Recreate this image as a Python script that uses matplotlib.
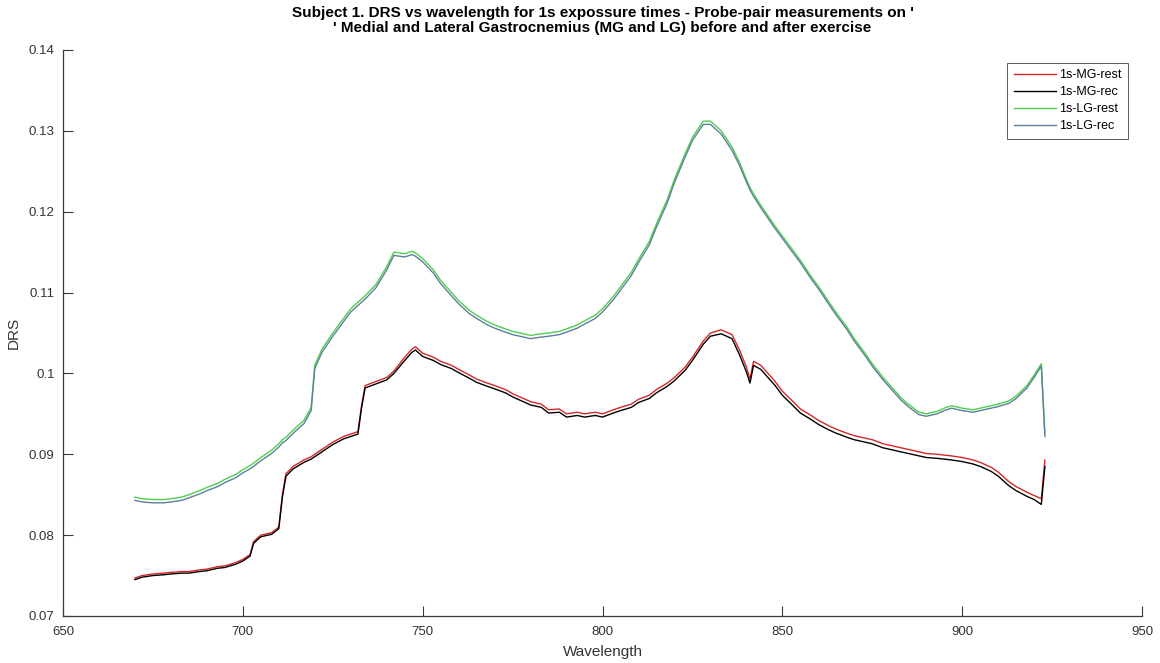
"""Subject 1 DRS spectra, probe-pair measurements on MG and LG before/after exercise."""
import matplotlib
matplotlib.use("Agg")
import matplotlib.pyplot as plt

plt.rcParams["font.family"] = ["Liberation Sans", "DejaVu Sans"]

wl = [670, 672, 675, 678, 680, 683, 685, 688, 690, 693, 695, 698, 700, 702, 703,
      705, 708, 710, 711, 712, 714, 717, 719, 720, 722, 725, 728, 730, 732, 733,
      734, 737, 740, 742, 745, 747, 748, 750, 753, 755, 758, 760, 763, 765, 768,
      770, 773, 775, 778, 780, 783, 785, 788, 790, 793, 795, 798, 800, 803, 805,
      808, 810, 813, 815, 818, 820, 823, 825, 828, 830, 833, 836, 838, 840, 841,
      842, 844, 846, 848, 850, 853, 855, 858, 860, 863, 865, 868, 870, 873, 875,
      878, 880, 883, 885, 888, 890, 893, 895, 897, 900, 903, 905, 908, 910, 913,
      915, 918, 920, 922, 923]

lg_rest = [0.0847, 0.0845, 0.0844, 0.0844, 0.0845, 0.0847, 0.0850, 0.0855, 0.0859, 0.0864, 0.0869, 0.0875, 0.0881, 0.0886, 0.0889,
           0.0896, 0.0905, 0.0913, 0.0918, 0.0921, 0.0930, 0.0942, 0.0958, 0.1010, 0.1030, 0.1050, 0.1068, 0.1080, 0.1088, 0.1092,
           0.1096, 0.1110, 0.1132, 0.1150, 0.1148, 0.1151, 0.1149, 0.1142, 0.1128, 0.1115, 0.1100, 0.1090, 0.1078, 0.1072, 0.1064,
           0.1060, 0.1055, 0.1052, 0.1049, 0.1047, 0.1049, 0.1050, 0.1052, 0.1055, 0.1060, 0.1065, 0.1072, 0.1080, 0.1095, 0.1107,
           0.1125, 0.1141, 0.1163, 0.1185, 0.1215, 0.1240, 0.1272, 0.1292, 0.1312, 0.1312, 0.1300, 0.1280, 0.1262, 0.1240, 0.1230,
           0.1222, 0.1208, 0.1195, 0.1182, 0.1170, 0.1152, 0.1140, 0.1120, 0.1108, 0.1088, 0.1075, 0.1057, 0.1043, 0.1025, 0.1012,
           0.0995, 0.0985, 0.0970, 0.0962, 0.0952, 0.0950, 0.0953, 0.0957, 0.0960, 0.0957, 0.0955, 0.0957, 0.0960, 0.0962, 0.0966,
           0.0972, 0.0985, 0.0998, 0.1012, 0.0925]

lg_rec = [0.0843, 0.0841, 0.0840, 0.0840, 0.0841, 0.0843, 0.0846, 0.0851, 0.0855, 0.0860, 0.0865, 0.0871, 0.0877, 0.0882, 0.0885,
          0.0892, 0.0901, 0.0909, 0.0914, 0.0917, 0.0926, 0.0938, 0.0954, 0.1006, 0.1026, 0.1046, 0.1064, 0.1076, 0.1084, 0.1088,
          0.1092, 0.1106, 0.1128, 0.1146, 0.1144, 0.1147, 0.1145, 0.1138, 0.1124, 0.1111, 0.1096, 0.1086, 0.1074, 0.1068, 0.1060,
          0.1056, 0.1051, 0.1048, 0.1045, 0.1043, 0.1045, 0.1046, 0.1048, 0.1051, 0.1056, 0.1061, 0.1068, 0.1076, 0.1091, 0.1103,
          0.1121, 0.1137, 0.1159, 0.1181, 0.1211, 0.1236, 0.1268, 0.1288, 0.1308, 0.1308, 0.1296, 0.1276, 0.1258, 0.1237, 0.1227,
          0.1219, 0.1205, 0.1192, 0.1179, 0.1167, 0.1149, 0.1137, 0.1117, 0.1105, 0.1085, 0.1072, 0.1054, 0.1040, 0.1022, 0.1009,
          0.0992, 0.0982, 0.0967, 0.0959, 0.0949, 0.0947, 0.0950, 0.0954, 0.0957, 0.0954, 0.0952, 0.0954, 0.0957, 0.0959, 0.0963,
          0.0969, 0.0982, 0.0995, 0.1009, 0.0922]

mg_rest = [0.0747, 0.0750, 0.0752, 0.0753, 0.0754, 0.0755, 0.0755, 0.0757, 0.0758, 0.0761, 0.0762, 0.0766, 0.0770, 0.0776, 0.0792,
           0.0800, 0.0803, 0.0810, 0.0850, 0.0876, 0.0885, 0.0893, 0.0897, 0.0900, 0.0906, 0.0915, 0.0922, 0.0925, 0.0928, 0.0960,
           0.0985, 0.0990, 0.0995, 0.1003, 0.1020, 0.1030, 0.1033, 0.1025, 0.1020, 0.1015, 0.1010, 0.1005, 0.0998, 0.0993, 0.0988,
           0.0985, 0.0980, 0.0975, 0.0969, 0.0965, 0.0962, 0.0955, 0.0956, 0.0950, 0.0952, 0.0950, 0.0952, 0.0950, 0.0955, 0.0958,
           0.0962, 0.0968, 0.0973, 0.0980, 0.0988, 0.0995, 0.1008, 0.1020, 0.1040, 0.1050, 0.1054, 0.1048, 0.1030, 0.1008, 0.0993,
           0.1015, 0.1010, 0.1000, 0.0990, 0.0978, 0.0965, 0.0956, 0.0948, 0.0942, 0.0935, 0.0931, 0.0926, 0.0923, 0.0920, 0.0918,
           0.0913, 0.0911, 0.0908, 0.0906, 0.0903, 0.0901, 0.0900, 0.0899, 0.0898, 0.0896, 0.0893, 0.0890, 0.0884, 0.0878, 0.0866,
           0.0860, 0.0853, 0.0849, 0.0845, 0.0893]

mg_rec = [0.0745, 0.0748, 0.0750, 0.0751, 0.0752, 0.0753, 0.0753, 0.0755, 0.0756, 0.0759, 0.0760, 0.0764, 0.0768, 0.0774, 0.0790,
          0.0798, 0.0801, 0.0808, 0.0847, 0.0873, 0.0882, 0.0890, 0.0894, 0.0897, 0.0903, 0.0912, 0.0919, 0.0922, 0.0925, 0.0957,
          0.0982, 0.0987, 0.0992, 0.1000, 0.1016, 0.1026, 0.1029, 0.1021, 0.1016, 0.1011, 0.1006, 0.1001, 0.0994, 0.0989, 0.0984,
          0.0981, 0.0976, 0.0971, 0.0965, 0.0961, 0.0958, 0.0951, 0.0952, 0.0946, 0.0948, 0.0946, 0.0948, 0.0946, 0.0951, 0.0954,
          0.0958, 0.0964, 0.0969, 0.0976, 0.0984, 0.0991, 0.1004, 0.1016, 0.1036, 0.1046, 0.1049, 0.1043, 0.1024, 0.1002, 0.0988,
          0.1010, 0.1005, 0.0995, 0.0985, 0.0973, 0.0960, 0.0951, 0.0943, 0.0937, 0.0930, 0.0926, 0.0921, 0.0918, 0.0915, 0.0913,
          0.0908, 0.0906, 0.0903, 0.0901, 0.0898, 0.0896, 0.0895, 0.0894, 0.0893, 0.0891, 0.0888, 0.0885, 0.0879, 0.0873, 0.0861,
          0.0855, 0.0848, 0.0844, 0.0838, 0.0885]

x_ticks = [650, 700, 750, 800, 850, 900, 950]
y_ticks = [0.07, 0.08, 0.09, 0.1, 0.11, 0.12, 0.13, 0.14]
y_tick_labels = ["0.07", "0.08", "0.09", "0.1", "0.11", "0.12", "0.13", "0.14"]

axis_grey = "#3a3a3a"

fig = plt.figure(figsize=(11.6, 6.63), dpi=100)
ax = fig.add_axes([0.0543, 0.0709, 0.9302, 0.8537])

ax.plot(wl, mg_rest, color="#d62728", linewidth=1.0, label="1s-MG-rest")
ax.plot(wl, mg_rec, color="black", linewidth=1.0, label="1s-MG-rec")
ax.plot(wl, lg_rest, color="#4dcf4d", linewidth=1.0, label="1s-LG-rest")
ax.plot(wl, lg_rec, color="#5d7f9c", linewidth=1.0, label="1s-LG-rec")

ax.set_xlim(650, 950)
ax.set_ylim(0.07, 0.14)
ax.set_xticks(x_ticks)
ax.set_yticks(y_ticks)
ax.set_yticklabels(y_tick_labels)

for side in ["top", "right"]:
    ax.spines[side].set_visible(False)
for side in ["left", "bottom"]:
    ax.spines[side].set_color(axis_grey)
    ax.spines[side].set_linewidth(0.9)
ax.tick_params(direction="in", length=7.5, width=0.8, colors=axis_grey,
               labelsize=9.5, labelcolor="#333333")
ax.tick_params(axis="x", pad=7)
ax.tick_params(axis="y", pad=6)

ax.set_xlabel("Wavelength", fontsize=11, color="#333333", labelpad=5)
ax.set_ylabel("DRS", fontsize=11, color="#333333", labelpad=6)
ax.set_title("Subject 1. DRS vs wavelength for 1s expossure times - Probe-pair measurements on '\n"
             "' Medial and Lateral Gastrocnemius (MG and LG) before and after exercise",
             fontsize=11, fontweight="bold", pad=13, linespacing=1.08)

leg = ax.legend(loc="upper right", bbox_to_anchor=(0.987, 0.977), fontsize=9, frameon=True,
                fancybox=False, handlelength=3.4, borderpad=0.5, labelspacing=0.4,
                handletextpad=0.25, borderaxespad=0.0)
leg.get_frame().set_edgecolor("#333333")
leg.get_frame().set_linewidth(0.7)

fig.savefig("out.png", dpi=100)
